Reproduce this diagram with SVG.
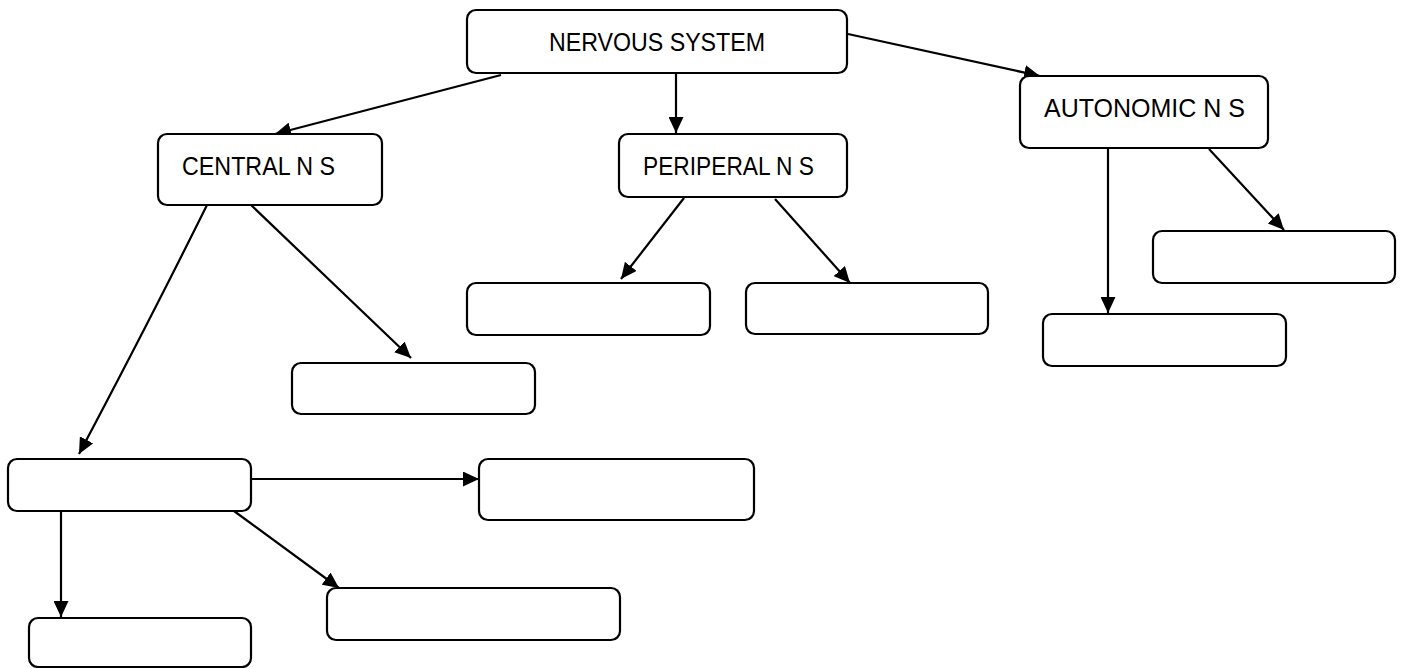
<svg xmlns="http://www.w3.org/2000/svg" width="1407" height="668" viewBox="0 0 1407 668">
<style>
  .box { fill: #fff; stroke: #000; stroke-width: 2.2; }
  .lbl { font-family: "Liberation Sans", Arial, sans-serif; font-size: 26px; fill: #000; }
  .con { stroke: #000; stroke-width: 2.2; fill: none; marker-end: url(#ah); }
</style>
<defs>
  <marker id="ah" markerUnits="userSpaceOnUse" markerWidth="17" markerHeight="15" refX="16" refY="7.5" orient="auto">
    <path d="M0,0 L16,7.5 L0,15 Z" fill="#000"/>
  </marker>
</defs>
<rect width="1407" height="668" fill="#fff"/>
<g id="connectors">
  <line class="con" x1="501" y1="75" x2="275" y2="134"/>
  <line class="con" x1="676" y1="74" x2="676" y2="133"/>
  <line class="con" x1="848" y1="34" x2="1040" y2="76"/>
  <line class="con" x1="684" y1="198" x2="621" y2="279"/>
  <line class="con" x1="775" y1="199" x2="850" y2="283"/>
  <line class="con" x1="1108" y1="149" x2="1108" y2="313"/>
  <line class="con" x1="1209" y1="149" x2="1284" y2="230"/>
  <path class="con" d="M207,205 Q150,320 79,454"/>
  <line class="con" x1="251" y1="205" x2="411" y2="358"/>
  <line class="con" x1="251" y1="479" x2="479" y2="479"/>
  <line class="con" x1="61" y1="511" x2="61" y2="617"/>
  <line class="con" x1="234" y1="511" x2="339" y2="588"/>
</g>
<g id="nervous">
  <rect class="box" x="467" y="10" width="380" height="63" rx="9"/>
  <text class="lbl" x="549" y="51" textLength="216" lengthAdjust="spacingAndGlyphs">NERVOUS SYSTEM</text>
</g>
<g id="central">
  <rect class="box" x="158" y="134" width="224" height="71" rx="9"/>
  <text class="lbl" x="182" y="175" textLength="153" lengthAdjust="spacingAndGlyphs">CENTRAL N S</text>
</g>
<g id="peripheral">
  <rect class="box" x="619" y="134" width="228" height="63" rx="9"/>
  <text class="lbl" x="643" y="175" textLength="171" lengthAdjust="spacingAndGlyphs">PERIPERAL N S</text>
</g>
<g id="autonomic">
  <rect class="box" x="1020" y="76" width="248" height="72" rx="9"/>
  <text class="lbl" x="1044" y="117" textLength="201" lengthAdjust="spacingAndGlyphs">AUTONOMIC N S</text>
</g>
<g id="pns-left"><rect class="box" x="467" y="283" width="243" height="52" rx="9"/></g>
<g id="pns-right"><rect class="box" x="746" y="283" width="242" height="51" rx="9"/></g>
<g id="ans-right"><rect class="box" x="1153" y="231" width="242" height="52" rx="9"/></g>
<g id="ans-bottom"><rect class="box" x="1043" y="314" width="243" height="52" rx="9"/></g>
<g id="cns-mid"><rect class="box" x="292" y="363" width="243" height="51" rx="9"/></g>
<g id="cns-left"><rect class="box" x="8" y="459" width="243" height="52" rx="9"/></g>
<g id="right-box"><rect class="box" x="479" y="459" width="275" height="61" rx="9"/></g>
<g id="bottom-mid"><rect class="box" x="327" y="588" width="293" height="52" rx="9"/></g>
<g id="bottom-left"><rect class="box" x="29" y="618" width="222" height="49" rx="9"/></g>
</svg>
